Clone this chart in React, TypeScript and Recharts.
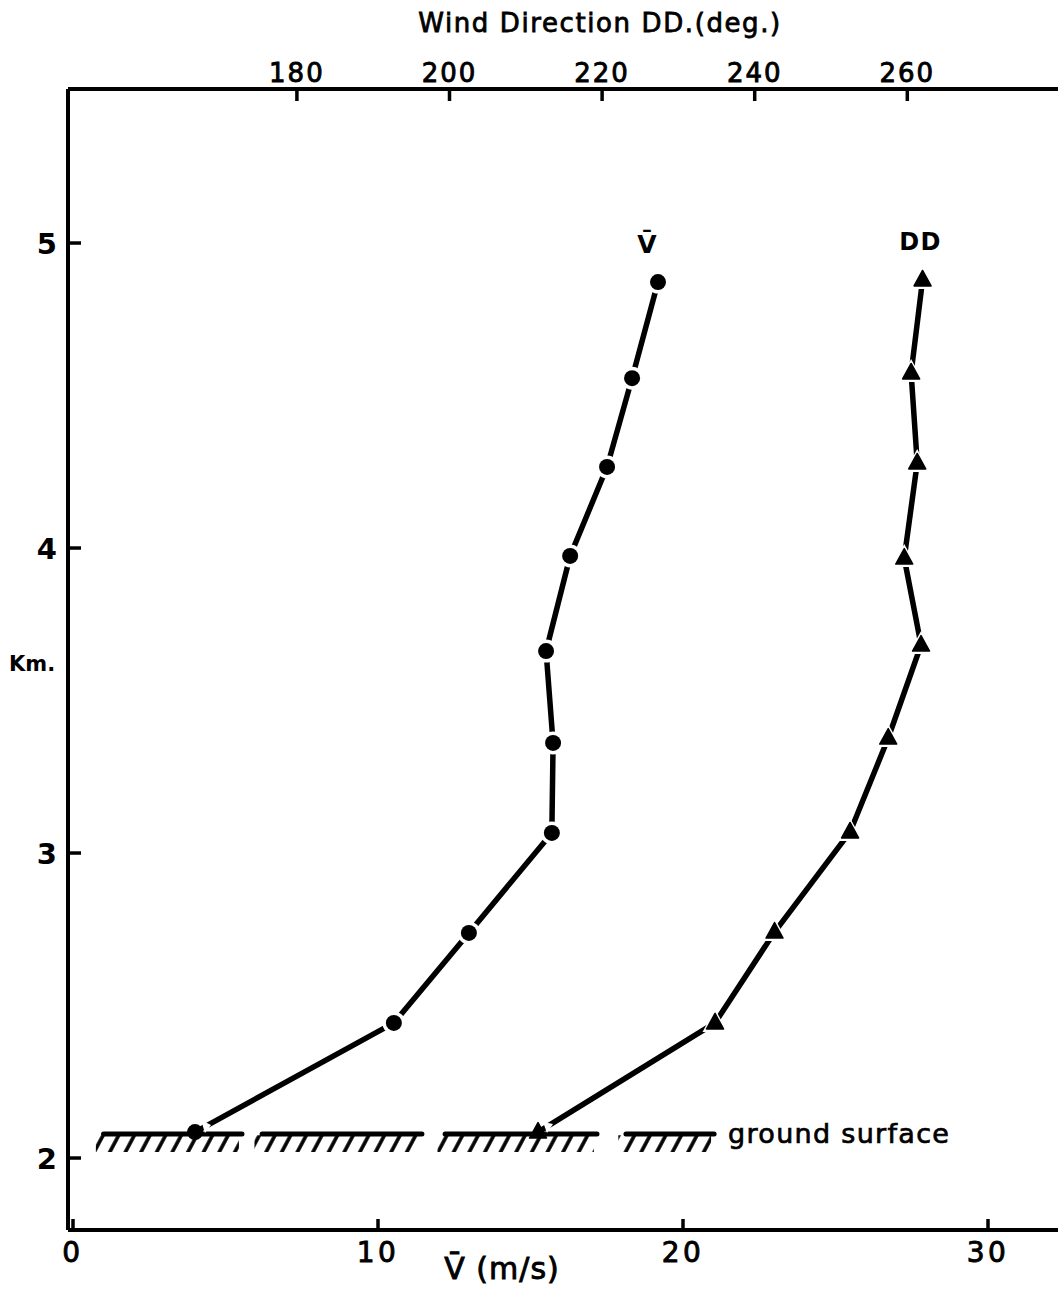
import React from 'react';
import {
  ScatterChart,
  Scatter,
  XAxis,
  YAxis,
  ReferenceArea,
  ReferenceLine,
  ReferenceDot,
} from 'recharts';

// ---- data ----
const heightsV = [2.085, 2.443, 2.738, 3.066, 3.361, 3.662, 3.974, 4.266, 4.557, 4.872];
const speedV = [4.0, 10.52, 12.98, 15.7, 15.74, 15.51, 16.3, 17.51, 18.33, 19.18];

const heightsDD = [2.085, 2.443, 2.741, 3.069, 3.377, 3.682, 3.967, 4.279, 4.574, 4.879];
const dirDD = [211.6, 234.8, 242.6, 252.5, 257.5, 261.8, 259.6, 261.3, 260.5, 262.0];

const speedTicks = [0, 10, 20, 30];
const dirTicks = [180, 200, 220, 240, 260];
const heightTicks = [2, 3, 4, 5];

const groundHeight = 2.079;
const groundDepth = 0.059;
const groundStarts = [1.0, 6.2, 12.2, 18.13];
const groundEnds = [5.54, 11.44, 17.18, 21.02];

const vData = heightsV.map((h, i) => ({ v: speedV[i], h, onGround: i === 0 }));
const ddData = heightsDD.map((h, i) => ({ dd: dirDD[i], h, onGround: i === 0 }));

const FONT = '"DejaVu Sans", sans-serif';

const BottomTick = (props: any) => {
  const { x, y, payload } = props;
  return (
    <g>
      <line x1={x} y1={y} x2={x} y2={y - 11} stroke="#000" strokeWidth={3.5} />
      <text x={x} y={y + 32} textAnchor="middle" fontFamily={FONT} fontSize={28} letterSpacing={3.5} stroke="#000" strokeWidth={0.9} fill="#000">
        {payload.value}
      </text>
    </g>
  );
};

const TopTick = (props: any) => {
  const { x, y, payload } = props;
  return (
    <g>
      <line x1={x} y1={y} x2={x} y2={y + 12} stroke="#000" strokeWidth={3.5} />
      <text x={x} y={y - 7} textAnchor="middle" fontFamily={FONT} fontSize={26} letterSpacing={2} stroke="#000" strokeWidth={0.9} fill="#000">
        {payload.value}
      </text>
    </g>
  );
};

const LeftTick = (props: any) => {
  const { x, y, payload } = props;
  return (
    <g>
      <line x1={x} y1={y} x2={x + 13} y2={y} stroke="#000" strokeWidth={3.5} />
      <text x={x - 11} y={y + 11} textAnchor="end" fontFamily={FONT} fontWeight="bold" fontSize={29} fill="#000">
        {payload.value}
      </text>
    </g>
  );
};

const isGround = (props: any) =>
  props.onGround === true || (props.payload && props.payload.onGround === true);

const Circle = (props: any) => {
  const { cx, cy } = props;
  const g = isGround(props);
  return (
    <g>
      {!g && <circle cx={cx} cy={cy} r={11.5} fill="#fff" />}
      {g && <path d={`M${cx + 6},${cy - 12} L${cx + 16},${cy - 7} L${cx + 10},${cy + 1} Z`} fill="#fff" />}
      <circle cx={cx} cy={cy} r={8} fill="#000" />
    </g>
  );
};

const Triangle = (props: any) => {
  const { cx, cy } = props;
  const g = isGround(props);
  return (
    <g>
      {!g && <path d={`M${cx},${cy - 14} L${cx - 12.5},${cy + 9} L${cx + 12.5},${cy + 9} Z`} fill="#fff" />}
      {g && <path d={`M${cx + 5},${cy - 10} L${cx + 15},${cy - 8} L${cx + 9},${cy + 1} Z`} fill="#fff" />}
      <path d={`M${cx},${cy - 9.5} L${cx - 8.5},${cy + 6} L${cx + 8.5},${cy + 6} Z`} fill="#000" stroke="#000" strokeWidth={1.5} strokeLinejoin="round" />
    </g>
  );
};

export default function App() {
  const last = heightsV.length - 1;
  return (
    <div style={{ position: 'absolute', left: 0, top: 0, width: 1058, height: 1302, background: '#fff' }}>
      <svg width={0} height={0} style={{ position: 'absolute' }}>
        <defs>
          <pattern id="hatch" patternUnits="userSpaceOnUse" width={13.8} height={10} patternTransform="rotate(28)">
            <line x1={3} y1={0} x2={3} y2={10} stroke="#000" strokeWidth={3.6} />
          </pattern>
        </defs>
      </svg>
      <ScatterChart width={1058} height={1302} margin={{ top: 0, right: 0, bottom: 0, left: 0 }}>
        <XAxis
          xAxisId="bottom"
          type="number"
          dataKey="v"
          orientation="bottom"
          domain={[-0.164, 32.295]}
          allowDataOverflow
          ticks={speedTicks}
          height={72}
          tickSize={0}
          tickMargin={0}
          tickLine={false}
          axisLine={{ stroke: '#000', strokeWidth: 4 }}
          tick={<BottomTick />}
          label={(p: any) => {
            const vb = p.viewBox;
            return (
              <text x={vb.x + 434} y={vb.y + 49} textAnchor="middle" fontFamily={FONT} fontSize={30} letterSpacing={1} stroke="#000" strokeWidth={0.9} fill="#000">
                {'V\u0304 (m/s)'}
              </text>
            );
          }}
        />
        <XAxis
          xAxisId="top"
          type="number"
          dataKey="dd"
          orientation="top"
          domain={[150, 279.75]}
          allowDataOverflow
          ticks={dirTicks}
          height={89}
          tickSize={0}
          tickMargin={0}
          tickLine={false}
          axisLine={{ stroke: '#000', strokeWidth: 4 }}
          tick={<TopTick />}
          label={(p: any) => {
            const vb = p.viewBox;
            return (
              <text x={vb.x + 532} y={vb.y + 32} textAnchor="middle" fontFamily={FONT} fontSize={26} letterSpacing={1.6} stroke="#000" strokeWidth={0.8} fill="#000">
                Wind Direction DD.(deg.)
              </text>
            );
          }}
        />
        <YAxis
          yAxisId="h"
          type="number"
          dataKey="h"
          domain={[1.764, 5.505]}
          allowDataOverflow
          ticks={heightTicks}
          width={68}
          tickSize={0}
          tickMargin={0}
          tickLine={false}
          axisLine={{ stroke: '#000', strokeWidth: 4 }}
          tick={<LeftTick />}
          label={(p: any) => {
            const vb = p.viewBox;
            return (
              <text x={vb.x + 9} y={vb.y + 582} textAnchor="start" fontFamily={FONT} fontWeight="bold" fontSize={21} fill="#000">
                Km.
              </text>
            );
          }}
        />

        <Scatter
          name="V"
          data={vData}
          xAxisId="bottom"
          yAxisId="h"
          line={{ stroke: '#000', strokeWidth: 5.5 }}
          lineType="joint"
          shape={<Circle />}
          isAnimationActive={false}
        />
        <Scatter
          name="DD"
          data={ddData}
          xAxisId="top"
          yAxisId="h"
          line={{ stroke: '#000', strokeWidth: 5.5 }}
          lineType="joint"
          shape={<Triangle />}
          isAnimationActive={false}
        />

        {groundStarts.map((s, i) => (
          <ReferenceArea
            key={`ga${i}`}
            xAxisId="bottom"
            yAxisId="h"
            x1={s - 0.25}
            x2={groundEnds[i] - 0.1}
            y1={groundHeight - groundDepth}
            y2={groundHeight - 0.004}
            fill="url(#hatch)"
            fillOpacity={1}
            stroke="none"
          />
        ))}
        {groundStarts.map((s, i) => (
          <ReferenceLine
            key={`gl${i}`}
            xAxisId="bottom"
            yAxisId="h"
            segment={[
              { x: s, y: groundHeight },
              { x: groundEnds[i], y: groundHeight },
            ]}
            stroke="#000"
            strokeWidth={5}
            strokeLinecap="round"
          />
        ))}
        <ReferenceDot
          xAxisId="bottom"
          yAxisId="h"
          x={groundEnds[3]}
          y={groundHeight}
          r={0}
          fill="none"
          stroke="none"
          label={(p: any) => {
            const vb = p.viewBox;
            return (
              <text x={vb.x + 14} y={vb.y + 9} textAnchor="start" fontFamily={FONT} fontSize={27} letterSpacing={1.3} stroke="#000" strokeWidth={0.7} fill="#000">
                ground surface
              </text>
            );
          }}
        />

        <ReferenceDot
          xAxisId="bottom"
          yAxisId="h"
          x={speedV[last]}
          y={heightsV[last]}
          r={0}
          fill="none"
          stroke="none"
          label={(p: any) => {
            const vb = p.viewBox;
            return (
              <text x={vb.x - 11} y={vb.y - 29} textAnchor="middle" fontFamily={FONT} fontWeight="bold" fontSize={25} fill="#000">
                {'V\u0304'}
              </text>
            );
          }}
        />
        <ReferenceDot
          xAxisId="top"
          yAxisId="h"
          x={dirDD[last]}
          y={heightsDD[last]}
          r={0}
          fill="none"
          stroke="none"
          label={(p: any) => {
            const vb = p.viewBox;
            return (
              <text x={vb.x - 2} y={vb.y - 30} textAnchor="middle" fontFamily={FONT} fontWeight="bold" fontSize={24} letterSpacing={1.5} fill="#000">
                DD
              </text>
            );
          }}
        />
      </ScatterChart>
    </div>
  );
}
